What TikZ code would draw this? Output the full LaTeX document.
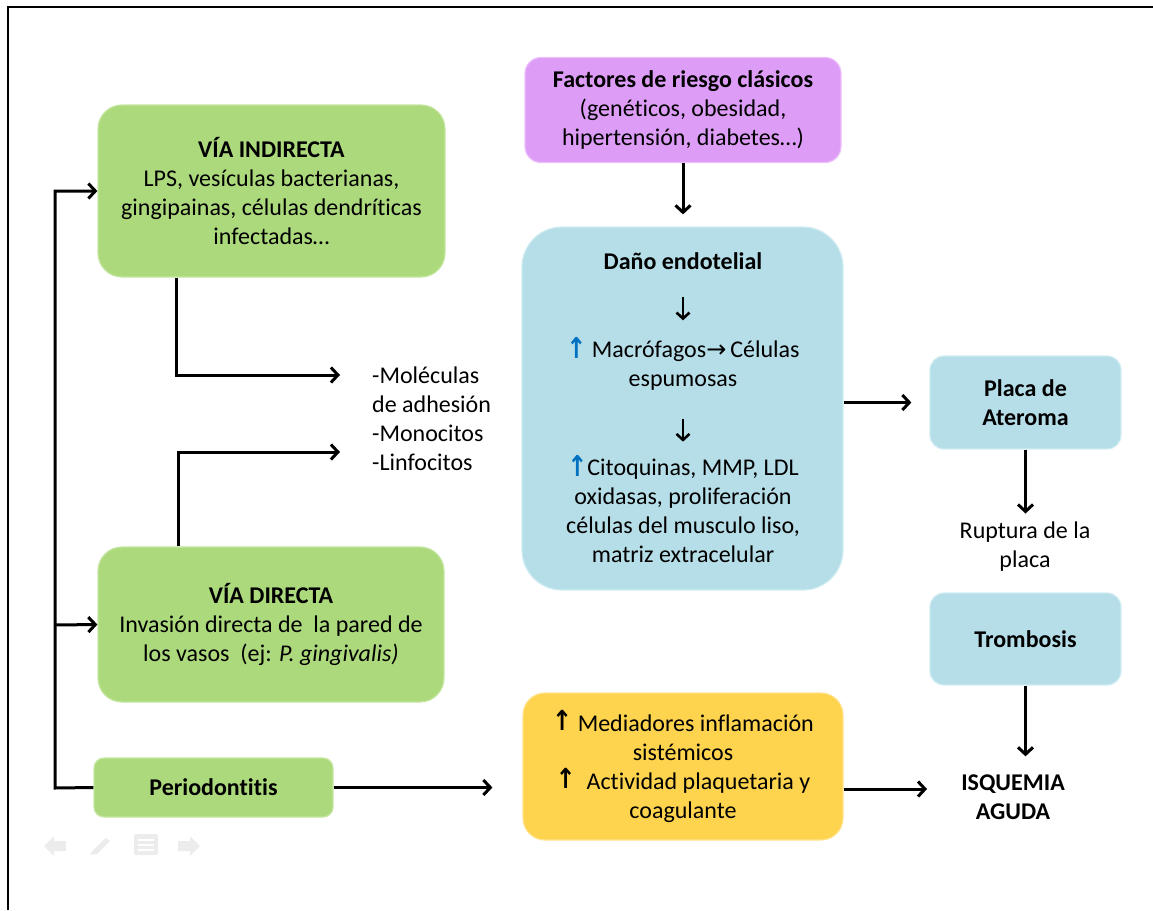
\documentclass[tikz,border=0pt]{standalone}
\usepackage{fontspec}
\setmainfont[Ligatures=NoCommon]{Carlito}
\newfontfamily\symf{DejaVu Sans}
\usetikzlibrary{arrows.meta}
\definecolor{gfill}{RGB}{173,217,125}
\definecolor{gedge}{RGB}{196,230,160}
\definecolor{vfill}{RGB}{221,156,246}
\definecolor{vedge}{RGB}{236,190,250}
\definecolor{bfill}{RGB}{182,222,232}
\definecolor{bedge}{RGB}{208,236,243}
\definecolor{yfill}{RGB}{254,211,78}
\definecolor{yedge}{RGB}{254,226,140}
\definecolor{upblue}{RGB}{0,112,192}
\definecolor{navgray}{RGB}{236,236,236}
\newcommand{\blueup}{\raisebox{-1pt}{\scalebox{1}[1.2]{\symf\bfseries\color{upblue}↑}}}
\newcommand{\blackup}{\raisebox{1pt}{\scalebox{1}[1.15]{\symf\bfseries ↑}}}
\begin{document}
\begin{tikzpicture}[x=1pt,y=-1pt,
  every node/.style={font=\fontsize{24}{29}\selectfont, align=center, inner sep=0pt},
  gbox/.style={fill=gfill, draw=gedge, line width=1.2pt},
  vbox/.style={fill=vfill, draw=vedge, line width=1.2pt},
  bbox/.style={fill=bfill, draw=bedge, line width=1.2pt},
  ybox/.style={fill=yfill, draw=yedge, line width=1.2pt},
  arr/.style={line width=3pt, -{Straight Barb[length=7pt,width=15pt]}},
  arrs/.style={line width=2.6pt, -{Straight Barb[length=6pt,width=13pt]}},
  nav/.style={fill=navgray, draw=none}
]
\useasboundingbox (0,0) rectangle (1153,910);
\draw[line width=2pt] (8,910) -- (8,7) -- (1153,7);

% boxes
\node[gbox, rounded corners=24pt, minimum width=347pt, minimum height=172pt] (ind) at (271.5,191)
  {\textbf{VÍA INDIRECTA}\\LPS, vesículas bacterianas,\\gingipainas, células dendríticas\\infectadas…};
\node[gbox, rounded corners=24pt, minimum width=346pt, minimum height=155pt] (dir) at (271,624.5)
  {\textbf{VÍA DIRECTA}\\Invasión directa de\ \ la pared de\\los vasos\ \ (ej: \textit{P. gingivalis)}};
\node[gbox, rounded corners=10pt, minimum width=239pt, minimum height=59pt] (per) at (213.5,787.5)
  {\textbf{Periodontitis}};
\node[vbox, rounded corners=16pt, minimum width=316pt, minimum height=105pt] (fac) at (683,110)
  {\textbf{Factores de riesgo clásicos}\\(genéticos, obesidad,\\hipertensión, diabetes…)};
\node[bbox, rounded corners=40pt, minimum width=321pt, minimum height=363pt] (dano) at (682.5,408.5) {};
\node[font=\fontsize{24}{29}\selectfont\bfseries] (t1) at (683,261) {Daño endotelial};
\node (t2) at (683,364) {\blueup\ Macrófagos{\symf →}\,Células\\espumosas};
\node (t3) at (683,509.5) {\blueup Citoquinas, MMP, LDL\\oxidasas, proliferación\\células del musculo liso,\\matriz extracelular};
\node[ybox, rounded corners=22pt, minimum width=320pt, minimum height=147pt] (yel) at (683,766.5)
  {\blackup\ Mediadores inflamación\\sistémicos\\\blackup\ \ Actividad plaquetaria y\\coagulante};
\node[bbox, rounded corners=14pt, minimum width=191pt, minimum height=93pt] (placa) at (1025.5,402.5)
  {\textbf{Placa de}\\\textbf{Ateroma}};
\node[bbox, rounded corners=14pt, minimum width=191pt, minimum height=92pt] (tromb) at (1025.5,639)
  {\textbf{Trombosis}};
\node (rupt) at (1025,546.5) {Ruptura de la\\placa};
\node[font=\fontsize{24}{29}\selectfont\bfseries] (isq) at (1013,797) {ISQUEMIA\\AGUDA};
\node[align=left, anchor=west] (mol) at (372,418.5) {-Moléculas\\de adhesión\\-Monocitos\\-Linfocitos};

% coordinates
\coordinate (ct) at (55,191);
\coordinate (cm) at (55,625);
\coordinate (cb) at (55,788);
\coordinate (m1) at (340,375);
\coordinate (m2) at (340,452);
\coordinate (y1) at ([yshift=-22.5pt]yel.east);

% connectors
\draw[arr] (per.west) -- (cb) -- (ct) -- (ind.west);
\draw[arr] (cm) -- (dir.west);
\draw[arr] ([xshift=-95.5pt]ind.south) |- (m1);
\draw[arr] ([xshift=-93pt]dir.north) |- (m2);
\draw[arr, shorten >=30pt] (per.east) -- (per.east -| yel.west);
\draw[arr, shorten >=12pt] (fac.south) -- (fac.south |- dano.north);
\draw[arr, shorten >=18pt] (dano.east |- placa.west) -- (placa.west);
\draw[arr, shorten >=8pt] (placa.south) -- (placa.south |- rupt.north);
\draw[arr, shorten >=18pt] (tromb.south) -- (tromb.south |- isq.north);
\draw[arr, shorten >=34pt] (y1) -- (y1 -| isq.west);
\draw[arrs, shorten <=27pt, shorten >=17pt] (t1.south) -- (t2.north);
\draw[arrs, shorten <=28pt, shorten >=14pt] (t2.south) -- (t3.north);

% navigation icons
\fill[nav] (44,846) -- (54,836) -- (54,841) -- (66,841) -- (66,851) -- (54,851) -- (54,856) -- cycle;
\fill[nav] (90,855) -- (93,850) -- (106,838) -- (110,841) -- (97,854) -- cycle;
\fill[nav, rounded corners=2pt] (134,834) rectangle (158,855);
\draw[white, line width=1.2pt] (138,840) -- (154,840) (138,845) -- (154,845) (138,850) -- (154,850);
\fill[nav] (200,846) -- (190,836) -- (190,841) -- (178,841) -- (178,851) -- (190,851) -- (190,856) -- cycle;
\end{tikzpicture}
\end{document}
